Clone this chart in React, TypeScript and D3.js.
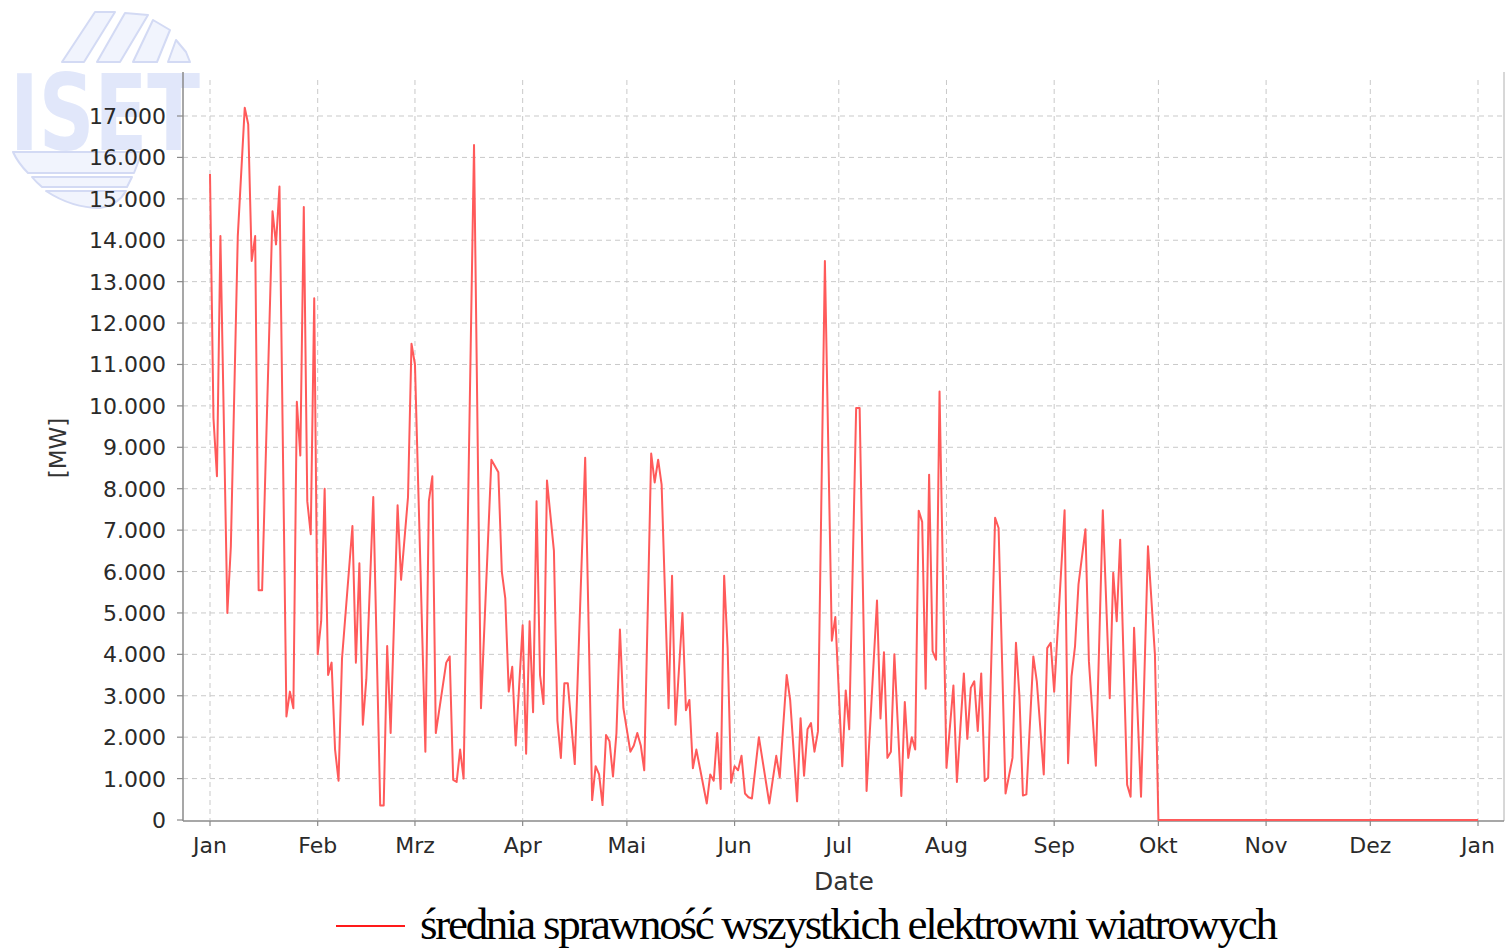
import React from 'react';
import * as d3 from 'd3';

// ---- data ----
const yearStart = new Date(2009, 0, 1);
const yearEnd = new Date(2010, 0, 1);

// day of year (0 = 1 Jan) of each vertex of the series
const dayOffsets = [
  0, 1, 2, 3, 5, 6, 8, 10, 11, 12, 13, 14, 15, 18, 19, 20, 22, 23, 24, 25, 26, 27, 28, 29, 30,
  31, 32, 33, 34, 35, 36, 37, 38, 41, 42, 43, 44, 45, 47, 49, 50, 51, 52, 54, 55, 57, 58,
  59, 62, 63, 64, 65, 68, 69, 70, 71, 72, 73, 76, 78, 81, 83, 84, 85, 86, 87, 88,
  90, 91, 92, 93, 94, 95, 96, 97, 99, 100, 101, 102, 103, 105, 108, 110, 111, 112, 113, 114, 115, 116, 117, 118, 119,
  121, 122, 123, 124, 125, 127, 128, 129, 130, 132, 133, 134, 136, 137, 138, 139, 140, 143, 144, 145, 146, 147, 148, 149, 150,
  151, 152, 153, 154, 155, 156, 158, 159, 161, 163, 164, 166, 167, 169, 170, 171, 172, 173, 174, 175, 177, 179, 180,
  182, 183, 184, 186, 187, 189, 192, 193, 194, 195, 196, 197, 199, 200, 201, 202, 203, 204, 205, 206, 207, 208, 209, 210,
  212, 214, 215, 217, 218, 219, 220, 221, 222, 223, 224, 226, 227, 229, 231, 232, 233, 234, 235, 237, 238, 240, 241, 242,
  243, 246, 247, 248, 249, 250, 252, 253, 255, 257, 259, 260, 261, 262, 264, 265, 266, 268, 270, 272,
  273, 365,
];

// MW
const values = [
  15600, 9700, 8300, 14100, 5000, 6600, 14100, 17200, 16800, 13500, 14100, 5550, 5550, 14700, 13900, 15300, 2500, 3100, 2700, 10100, 8800, 14800, 7700, 6900, 12600,
  4000, 4800, 8000, 3500, 3800, 1700, 950, 3900, 7100, 3800, 6200, 2300, 3400, 7800, 350, 350, 4200, 2100, 7600, 5800, 7800, 11500,
  11000, 1650, 7700, 8300, 2100, 3800, 3950, 970, 920, 1700, 1000, 16300, 2700, 8700, 8400, 6000, 5350, 3100, 3700, 1800,
  4700, 1600, 4800, 2600, 7700, 3500, 2800, 8200, 6500, 2400, 1500, 3300, 3300, 1350, 8750, 480, 1300, 1100, 360, 2050, 1900, 1050, 2100, 4600, 2700,
  1650, 1800, 2100, 1800, 1200, 8850, 8150, 8700, 8100, 2700, 5900, 2300, 5000, 2650, 2900, 1250, 1700, 400, 1100, 950, 2100, 750, 5900, 4150, 900,
  1300, 1200, 1550, 640, 550, 520, 2000, 1470, 400, 1550, 1030, 3500, 2900, 450, 2460, 1070, 2190, 2340, 1650, 2140, 13500, 4330, 4900,
  1300, 3130, 2190, 9950, 9950, 700, 5300, 2450, 4050, 1500, 1650, 4000, 580, 2850, 1500, 2000, 1700, 7470, 7200, 3170, 8340, 4080, 3870, 10350,
  1260, 3250, 920, 3540, 1960, 3190, 3350, 2150, 3540, 940, 1020, 7300, 7050, 640, 1500, 4280, 2990, 590, 620, 3950, 3350, 1100, 4150, 4280,
  3100, 7480, 1370, 3470, 4190, 5690, 7020, 3830, 1310, 7480, 2940, 5970, 4800, 6770, 850, 560, 4640, 560, 6610, 4000,
  0, 0,
];

const monthLabels = ['Jan', 'Feb', 'Mrz', 'Apr', 'Mai', 'Jun', 'Jul', 'Aug', 'Sep', 'Okt', 'Nov', 'Dez', 'Jan'];
const yTickValues = [0, 1000, 2000, 3000, 4000, 5000, 6000, 7000, 8000, 9000, 10000, 11000, 12000, 13000, 14000, 15000, 16000, 17000];
const seriesName = 'średnia sprawność wszystkich elektrowni wiatrowych';
const xTitle = 'Date';
const yTitle = '[MW]';

const de = d3.formatLocale({ decimal: ',', thousands: '.', grouping: [3], currency: ['', ' €'] });
const fmt = de.format(',d');

export default function App() {
  const W = 1506;
  const H = 949;
  const left = 183;
  const right = 1504;
  const top = 72;
  const bottom = 820;

  const x = d3.scaleTime().domain([yearStart, yearEnd]).range([210, 1478]);
  const y = d3.scaleLinear().domain([0, 17000]).range([820, 116]);

  const pts = dayOffsets.map((d, i) => ({ date: d3.timeDay.offset(yearStart, d), v: values[i] }));
  const line = d3
    .line<{ date: Date; v: number }>()
    .x((p) => x(p.date))
    .y((p) => y(p.v));

  const months = d3.timeMonth.range(yearStart, d3.timeDay.offset(yearEnd, 1));

  const sans = 'DejaVu Sans, sans-serif';
  const gridColor = '#c9c9c9';
  const axisColor = '#8a8a8a';

  return (
    <svg width={W} height={H} style={{ position: 'absolute', left: 0, top: 0, background: '#fff' }}>
      <rect x={0} y={0} width={W} height={H} fill="#fff" />
      {/* ISET logo watermark */}
      <g>
        <g fill="#f1f4fd" stroke="#d3daf4" strokeWidth={2} strokeLinejoin="round">
          <polygon points="95,12 115,12 84,62 62,62" />
          <polygon points="125,13 148,15 120,62 97,62" />
          <polygon points="153,20 170,30 157,62 133,62" />
          <polygon points="176,40 186,52 190,62 168,62" />
          <path d="M13,152 L142,152 L134,173 L28,173 Q18,163 13,152 Z" />
          <path d="M32,177 L132,177 L127,187 L42,187 Q36,182 32,177 Z" />
          <path d="M46,191 L126,191 Q118,205 100,208 Q72,208 46,191 Z" />
        </g>
        <text
          x={10}
          y={150}
          fontFamily="DejaVu Sans, sans-serif"
          fontWeight="bold"
          fontSize={106}
          fill="#e1e7fa"
          textLength={190}
          lengthAdjust="spacingAndGlyphs"
        >
          ISET
        </text>
      </g>

      {/* horizontal grid */}
      {yTickValues
        .filter((v) => v > 0)
        .map((v) => (
          <line key={'hg' + v} x1={left} x2={right} y1={y(v)} y2={y(v)} stroke={gridColor} strokeWidth={1} strokeDasharray="5,4" />
        ))}
      {/* vertical grid */}
      {months.map((m, i) => (
        <line key={'vg' + i} x1={x(m)} x2={x(m)} y1={top + 8} y2={bottom} stroke={gridColor} strokeWidth={1} strokeDasharray="5,4" />
      ))}

      {/* right outline */}
      <line x1={right} x2={right} y1={top} y2={bottom + 1} stroke="#b0b0b0" strokeWidth={1} />

      {/* axes */}
      <line x1={left} x2={left} y1={top} y2={bottom + 1} stroke={axisColor} strokeWidth={1.5} />
      <line x1={left} x2={right} y1={bottom + 1} y2={bottom + 1} stroke={axisColor} strokeWidth={1.5} />
      {yTickValues.map((v) => (
        <g key={'yt' + v}>
          <line x1={left - 6} x2={left} y1={y(v)} y2={y(v)} stroke={axisColor} strokeWidth={1.2} />
          <text x={166} y={y(v) + 8} textAnchor="end" fontFamily={sans} fontSize={22} fill="#2a2a2a">
            {fmt(v)}
          </text>
        </g>
      ))}
      {months.map((m, i) => (
        <g key={'xt' + i}>
          <line x1={x(m)} x2={x(m)} y1={bottom + 1} y2={bottom + 6} stroke={axisColor} strokeWidth={1.2} />
          <text x={x(m)} y={853} textAnchor="middle" fontFamily={sans} fontSize={22} fill="#2a2a2a">
            {monthLabels[i]}
          </text>
        </g>
      ))}

      {/* series */}
      <path d={line(pts) || ''} fill="none" stroke="#ff5a5a" strokeWidth={2} strokeLinejoin="round" />

      {/* axis titles */}
      <text x={844} y={890} textAnchor="middle" fontFamily={sans} fontSize={25} fill="#333">
        {xTitle}
      </text>
      <text
        transform="translate(66,448) rotate(-90)"
        textAnchor="middle"
        fontFamily={sans}
        fontSize={23}
        fill="#333"
      >
        {yTitle}
      </text>

      {/* legend */}
      <line x1={336} x2={405} y1={926} y2={926} stroke="#ff1a1a" strokeWidth={2} />
      <text
        x={420}
        y={939}
        fontFamily="Liberation Serif, Times New Roman, serif"
        fontSize={45}
        fill="#000"
        textLength={858}
        lengthAdjust="spacing"
      >
        {seriesName}
      </text>
    </svg>
  );
}
